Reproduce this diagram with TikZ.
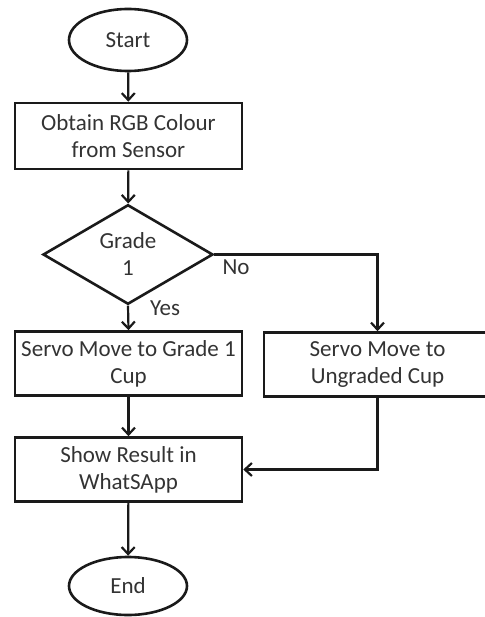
\documentclass[tikz,border=0pt]{standalone}
\usepackage{fontspec}
\setmainfont{Carlito}
\usetikzlibrary{shapes.geometric,arrows.meta}
\definecolor{txt}{HTML}{333333}
\definecolor{ln}{HTML}{1A1A1A}
\tikzset{
  base/.style={draw=ln, line width=2.6pt, text=txt, align=center, inner sep=0pt,
    font=\fontsize{23}{27}\selectfont},
  term/.style={base, ellipse, minimum width=118pt, minimum height=62pt},
  proc/.style={base, rectangle, minimum width=227pt, minimum height=64pt},
  dec/.style={base, diamond, minimum width=170pt, minimum height=85pt},
  conn/.style={draw=ln, line width=2.2pt, -{Straight Barb[length=7pt,width=13pt,line width=2.2pt]}},
  lbl/.style={text=txt, font=\fontsize{23}{27}\selectfont, inner sep=0pt}
}
\begin{document}
\begin{tikzpicture}[x=1pt,y=-1pt]
\useasboundingbox (0,0) rectangle (484,617);
\node[term] (start) at (128,40) {Start};
\node[proc, minimum height=66pt] (obtain) at (128.5,136) {Obtain RGB Colour\\from Sensor};
\node[dec] (grade) at (128,254.5) {Grade\\[0pt]1};
\node[proc] (servo1) at (128.5,363.5) {Servo Move to Grade 1\\Cup};
\node[proc] (servo2) at (377.5,364.5) {Servo Move to\\Ungraded Cup};
\node[proc] (show) at (128.5,469.5) {Show Result in\\WhatSApp};
\node[term, minimum height=58pt] (end) at (128,586) {End};
\node[lbl] (no) at (236,267) {No};
\node[lbl] (yes) at (165,308) {Yes};
\draw[conn] (start) -- (obtain);
\draw[conn] (obtain) -- (grade);
\draw[conn] (grade.south) -- (servo1.north);
\draw[conn] (grade.east) -| (servo2.north);
\draw[conn] (servo1) -- (show);
\draw[conn] (servo2.south) |- (show.east);
\draw[conn] (show) -- (end);
\end{tikzpicture}
\end{document}
